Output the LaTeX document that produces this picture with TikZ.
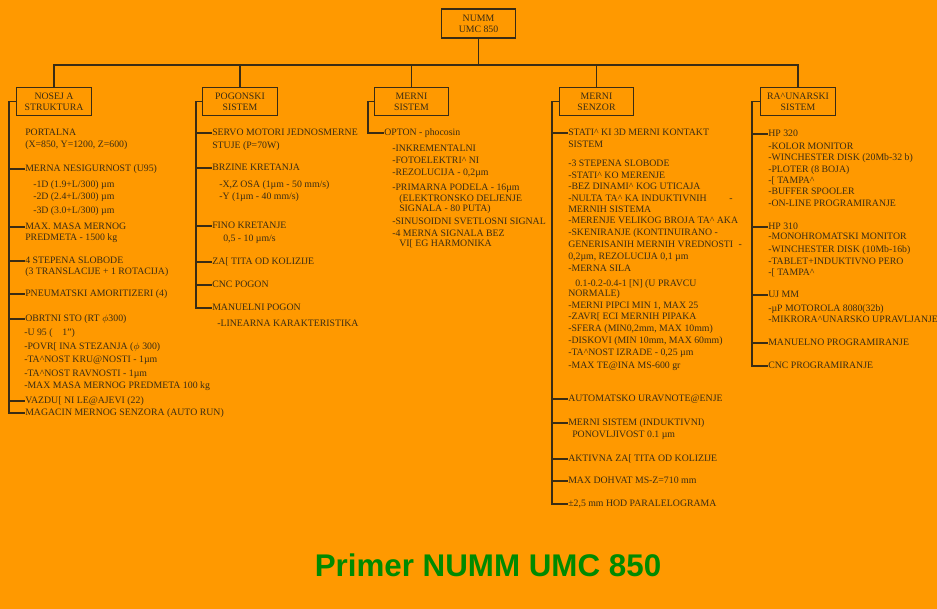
\documentclass[tikz,border=0pt]{standalone}
\usepackage{fontspec}
\setmainfont{Liberation Serif}
\newfontfamily\titlefont{Liberation Sans}
\definecolor{bgorange}{HTML}{FF9900}
\definecolor{inkbrown}{HTML}{3A2C14}
\definecolor{titlegreen}{HTML}{008A00}
\newcommand{\crt}{\textasciicircum}

\tikzset{
  box/.style={draw=inkbrown, line width=0.8pt, minimum width=56pt, minimum height=21pt,
    align=center, inner sep=1pt, text=inkbrown, font=\fontsize{7.35}{8.3}\selectfont},
  txt/.style={anchor=west, inner sep=0pt, text height=5.5pt, text depth=1.5pt,
    text=inkbrown, font=\fontsize{7.35}{8}\selectfont},
  link/.style={draw=inkbrown, line width=0.8pt}
}

\begin{document}
\begin{tikzpicture}[x=0.75pt, y=-0.75pt]
    % Background
    \fill[bgorange] (0,0) rectangle (937,609);
    \useasboundingbox (0,0) rectangle (937,609);

    % Boxes
    \node[box, minimum height=21.75pt] (top) at (478.5,23.5) {NUMM\\UMC 850};
    \node[box] (nosej) at (54,101.5) {NOSEJ A\\STRUKTURA};
    \node[box] (pogon) at (240,101.5) {POGONSKI\\SISTEM};
    \node[box] (mernis) at (411.5,101.5) {MERNI\\SISTEM};
    \node[box] (senzor) at (596.5,101.5) {MERNI\\SENZOR};
    \node[box] (racun) at (798,101.5) {RA\crt UNARSKI\\SISTEM};

    % Bus
    \coordinate (bus) at (0,65);
    \draw[link] (top.south) -- (top.south |- bus);
    \draw[link] (nosej.north) |- (racun.north |- bus) -- (racun.north);
    \draw[link] (pogon.north) -- (pogon.north |- bus);
    \draw[link] (mernis.north) -- (mernis.north |- bus);
    \draw[link] (senzor.north) -- (senzor.north |- bus);

    % Nosej a struktura
    \node[txt] (n1) at (25,133) {PORTALNA};
    \node[txt] (n2) at (25,145) {(X=850, Y=1200, Z=600)};
    \node[txt] (n3) at (25,169) {MERNA NESIGURNOST (U95)};
    \node[txt] (n4) at (33,185) {-1D (1.9+L/300) µm};
    \node[txt] (n5) at (33,197) {-2D (2.4+L/300) µm};
    \node[txt] (n6) at (33,211) {-3D (3.0+L/300) µm};
    \node[txt] (n7) at (25,227) {MAX. MASA MERNOG};
    \node[txt] (n8) at (25,238) {PREDMETA - 1500 kg};
    \node[txt] (n9) at (25,261) {4 STEPENA SLOBODE};
    \node[txt] (n10) at (25,272) {(3 TRANSLACIJE + 1 ROTACIJA)};
    \node[txt] (n11) at (25,294) {PNEUMATSKI AMORITIZERI (4)};
    \node[txt] (n12) at (25,319) {OBRTNI STO (RT $\phi$300)};
    \node[txt] (n13) at (24,333) {-U 95 (~~~~1'')};
    \node[txt] (n14) at (24,347) {-POVR[ INA STEZANJA ($\phi$ 300)};
    \node[txt] (n15) at (24,360) {-TA\crt NOST KRU@NOSTI - 1µm};
    \node[txt] (n16) at (24,374) {-TA\crt NOST RAVNOSTI - 1µm};
    \node[txt] (n17) at (24,386) {-MAX MASA MERNOG PREDMETA 100 kg};
    \node[txt] (n18) at (25,401) {VAZDU[ NI LE@AJEVI (22)};
    \node[txt] (n19) at (25,413) {MAGACIN MERNOG SENZORA (AUTO RUN)};
    \coordinate (tn) at (9,101.5);
    \draw[link] (nosej.west) -- (tn) |- (n19.west);
    \foreach \i in {n3,n7,n9,n11,n12,n18}
      \draw[link] (tn |- \i.west) -- (\i.west);

    % Pogonski sistem
    \node[txt] (p1) at (212,133) {SERVO MOTORI JEDNOSMERNE};
    \node[txt] (p2) at (212,146) {STUJE (P=70W)};
    \node[txt] (p3) at (212,168) {BRZINE KRETANJA};
    \node[txt] (p4) at (219,185) {-X,Z OSA (1µm - 50 mm/s)};
    \node[txt] (p5) at (219,197) {-Y (1µm - 40 mm/s)};
    \node[txt] (p6) at (212,226) {FINO KRETANJE};
    \node[txt] (p7) at (223,239) {0,5 - 10 µm/s};
    \node[txt] (p8) at (212,262) {ZA[ TITA OD KOLIZIJE};
    \node[txt] (p9) at (212,285) {CNC POGON};
    \node[txt] (p10) at (212,308) {MANUELNI POGON};
    \node[txt] (p11) at (217,324) {-LINEARNA KARAKTERISTIKA};
    \coordinate (tp) at (196,101.5);
    \draw[link] (pogon.west) -- (tp) |- (p10.west);
    \foreach \i in {p1,p3,p6,p8,p9}
      \draw[link] (tp |- \i.west) -- (\i.west);

    % Merni sistem
    \node[txt] (m1) at (384,133) {OPTON - phocosin};
    \node[txt] (m2) at (392,149) {-INKREMENTALNI};
    \node[txt] (m3) at (392,161) {-FOTOELEKTRI\crt{} NI};
    \node[txt] (m4) at (392,173) {-REZOLUCIJA - 0,2µm};
    \node[txt] (m5) at (392,188) {-PRIMARNA PODELA - 16µm};
    \node[txt] (m6) at (399,199) {(ELEKTRONSKO DELJENJE};
    \node[txt] (m7) at (399,209) {SIGNALA - 80 PUTA)};
    \node[txt] (m8) at (392,222) {-SINUSOIDNI SVETLOSNI SIGNAL};
    \node[txt] (m9) at (392,234) {-4 MERNA SIGNALA BEZ};
    \node[txt] (m10) at (399,244) {VI[ EG HARMONIKA};
    \coordinate (tm) at (368,101.5);
    \draw[link] (mernis.west) -- (tm) |- (m1.west);

    % Merni senzor
    \node[txt] (s1) at (568,133) {STATI\crt{} KI 3D MERNI KONTAKT};
    \node[txt] (s2) at (568,145) {SISTEM};
    \node[txt] (s3) at (568,164) {-3 STEPENA SLOBODE};
    \node[txt] (s4) at (568,176) {-STATI\crt{} KO MERENJE};
    \node[txt] (s5) at (568,187) {-BEZ DINAMI\crt{} KOG UTICAJA};
    \node[txt] (s6) at (568,199) {-NULTA TA\crt{} KA INDUKTIVNIH\hspace{17pt}-};
    \node[txt] (s7) at (568,210) {MERNIH SISTEMA};
    \node[txt] (s8) at (568,221) {-MERENJE VELIKOG BROJA TA\crt{} AKA};
    \node[txt] (s9) at (568,233) {-SKENIRANJE (KONTINUIRANO -};
    \node[txt] (s10) at (568,245) {GENERISANIH MERNIH VREDNOSTI\hspace{4pt}-};
    \node[txt] (s11) at (568,257) {0,2µm, REZOLUCIJA 0,1 µm};
    \node[txt] (s12) at (568,269) {-MERNA SILA};
    \node[txt] (s13) at (575,284) {0.1-0.2-0.4-1 [N] (U PRAVCU};
    \node[txt] (s14) at (568,294) {NORMALE)};
    \node[txt] (s15) at (568,306) {-MERNI PIPCI MIN 1, MAX 25};
    \node[txt] (s16) at (568,317) {-ZAVR[ ECI MERNIH PIPAKA};
    \node[txt] (s17) at (568,329) {-SFERA (MIN0,2mm, MAX 10mm)};
    \node[txt] (s18) at (568,341) {-DISKOVI (MIN 10mm, MAX 60mm)};
    \node[txt] (s19) at (568,353) {-TA\crt NOST IZRADE - 0,25 µm};
    \node[txt] (s20) at (568,366) {-MAX TE@INA MS-600 gr};
    \node[txt] (s21) at (568,399) {AUTOMATSKO URAVNOTE@ENJE};
    \node[txt] (s22) at (568,423) {MERNI SISTEM (INDUKTIVNI)};
    \node[txt] (s23) at (572,435) {PONOVLJIVOST 0.1 µm};
    \node[txt] (s24) at (568,459) {AKTIVNA ZA[ TITA OD KOLIZIJE};
    \node[txt] (s25) at (568,481) {MAX DOHVAT MS-Z=710 mm};
    \node[txt] (s26) at (568,504) {±2,5 mm HOD PARALELOGRAMA};
    \coordinate (ts) at (552,101.5);
    \draw[link] (senzor.west) -- (ts) |- (s26.west);
    \foreach \i in {s1,s21,s22,s24,s25}
      \draw[link] (ts |- \i.west) -- (\i.west);

    % Racunarski sistem
    \node[txt] (r1) at (768,134) {HP 320};
    \node[txt] (r2) at (768,147) {-KOLOR MONITOR};
    \node[txt] (r3) at (768,158) {-WINCHESTER DISK (20Mb-32 b)};
    \node[txt] (r4) at (768,170) {-PLOTER (8 BOJA)};
    \node[txt] (r5) at (768,181) {-[ TAMPA\crt};
    \node[txt] (r6) at (768,192) {-BUFFER SPOOLER};
    \node[txt] (r7) at (768,204) {-ON-LINE PROGRAMIRANJE};
    \node[txt] (r8) at (768,227) {HP 310};
    \node[txt] (r9) at (768,237) {-MONOHROMATSKI MONITOR};
    \node[txt] (r10) at (768,250) {-WINCHESTER DISK (10Mb-16b)};
    \node[txt] (r11) at (768,262) {-TABLET+INDUKTIVNO PERO};
    \node[txt] (r12) at (768,273) {-[ TAMPA\crt};
    \node[txt] (r13) at (768,295) {UJ MM};
    \node[txt] (r14) at (768,309) {-µP MOTOROLA 8080(32b)};
    \node[txt] (r15) at (768,320) {-MIKRORA\crt UNARSKO UPRAVLJANJE};
    \node[txt] (r16) at (768,343) {MANUELNO PROGRAMIRANJE};
    \node[txt] (r17) at (768,366) {CNC PROGRAMIRANJE};
    \coordinate (tr) at (752,101.5);
    \draw[link] (racun.west) -- (tr) |- (r17.west);
    \foreach \i in {r1,r8,r13,r16}
      \draw[link] (tr |- \i.west) -- (\i.west);

    % Title
    \node[inner sep=0pt, text=titlegreen, font=\titlefont\bfseries\fontsize{23.5}{28}\selectfont]
      (title) at (488,565) {Primer NUMM UMC 850};
\end{tikzpicture}
\end{document}
